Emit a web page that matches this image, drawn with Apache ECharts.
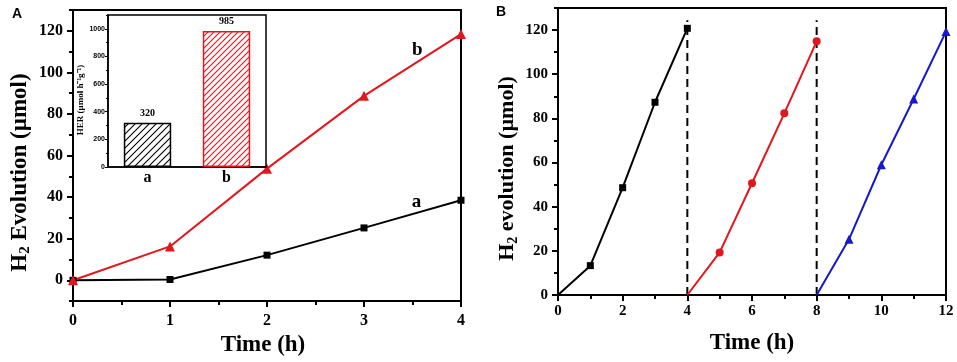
<!DOCTYPE html>
<html>
<head>
<meta charset="utf-8">
<script src="https://cdn.jsdelivr.net/npm/echarts@6/dist/echarts.min.js"></script>
<style>html,body{margin:0;padding:0;background:#fff;}#c{width:957px;height:362px;}</style>
</head>
<body>
<div id="c"></div>
<script>
// ---------- Data ----------
// Panel A
const timeA = [0, 1, 2, 3, 4];
const seriesA_a = [0, 0.4, 12.1, 25.2, 38.5];
const seriesA_b = [0, 16.3, 53.7, 88.7, 118.4];
const yMajorA = [0, 20, 40, 60, 80, 100, 120];
const yMinorA = [-10, 10, 30, 50, 70, 90, 110, 130];
// Inset
const insetCats = ['a', 'b'];
const insetHER = [320, 985];
const insetMajor = [0, 200, 400, 600, 800, 1000];
const insetMinor = [100, 300, 500, 700, 900, 1100];
// Panel B
const cycle1 = [[0, 0], [1, 13.3], [2, 48.6], [3, 87.3], [4, 120.8]];
const cycle2 = [[4, 0], [5, 19.3], [6, 50.6], [7, 82.3], [8, 114.9]];
const cycle3 = [[8, 0], [9, 25.2], [10, 59.0], [11, 88.8], [12, 119.3]];
const dividers = [4, 8];
const dividerTop = 124.5;
const yMajorB = [0, 20, 40, 60, 80, 100, 120];
const yMinorB = [10, 30, 50, 70, 90, 110, 130];

// ---------- Styles ----------
const SERIF = 'Liberation Serif, Times New Roman, serif';
const SANS = 'Liberation Sans, Arial, sans-serif';
const RED = '#e3161d';
const BLUE = '#1717cc';

function hatch(color, p) {
  const c = document.createElement('canvas');
  c.width = p; c.height = p;
  const g = c.getContext('2d');
  g.fillStyle = '#fff'; g.fillRect(0, 0, p, p);
  g.strokeStyle = color; g.lineWidth = 1.1;
  g.beginPath();
  g.moveTo(0, p); g.lineTo(p, 0);
  g.moveTo(-1, 1); g.lineTo(1, -1);
  g.moveTo(p - 1, p + 1); g.lineTo(p + 1, p - 1);
  g.stroke();
  return { image: c, repeat: 'repeat' };
}

const axisLine = { show: true, onZero: false, lineStyle: { color: '#000', width: 2 } };
const tickLbl = (size, extra) => Object.assign({ color: '#000', fontFamily: SERIF, fontWeight: 'bold', fontSize: size }, extra || {});
const plain = v => String(v);

const chart = echarts.init(document.getElementById('c'), null, { renderer: 'canvas' });

const option = {
  animation: false,
  backgroundColor: '#fff',
  graphic: [
    { type: 'text', left: 12, top: 7, style: { text: 'A', font: 'bold 14px ' + SANS, fill: '#000' } },
    { type: 'text', left: 496, top: 5, style: { text: 'B', font: 'bold 14px ' + SANS, fill: '#000' } }
  ],
  grid: [
    { left: 73, top: 10, width: 388, height: 297, show: true, borderColor: '#000', borderWidth: 2 },
    { left: 108, top: 15, width: 158, height: 152, show: true, borderColor: '#000', borderWidth: 1.5, z: 5 },
    { left: 558, top: 8, width: 388, height: 287, show: true, borderColor: '#000', borderWidth: 2 }
  ],
  xAxis: [
    {
      gridIndex: 0, type: 'value', min: 0, max: 4, interval: 1,
      axisLine: axisLine,
      axisTick: { show: true, length: 6, lineStyle: { width: 2, color: '#000' } },
      minorTick: { show: true, splitNumber: 2, length: 4, lineStyle: { width: 2, color: '#000' } },
      axisLabel: tickLbl(16, { margin: 12 }),
      splitLine: { show: false },
      name: 'Time (h)', nameLocation: 'middle', nameGap: 28,
      nameTextStyle: { color: '#000', fontFamily: SERIF, fontWeight: 'bold', fontSize: 23, padding: [0, 8, 0, 0] }
    },
    {
      gridIndex: 1, type: 'category', data: insetCats,
      axisLine: { show: true, lineStyle: { color: '#000', width: 1.5 } },
      axisTick: { show: false },
      axisLabel: tickLbl(16, { margin: 3 }),
      z: 6
    },
    {
      gridIndex: 2, type: 'value', min: 0, max: 12, interval: 2,
      axisLine: axisLine,
      axisTick: { show: true, length: 6, lineStyle: { width: 2, color: '#000' } },
      minorTick: { show: true, splitNumber: 2, length: 4, lineStyle: { width: 2, color: '#000' } },
      axisLabel: tickLbl(15, { margin: 9 }),
      splitLine: { show: false },
      name: 'Time (h)', nameLocation: 'middle', nameGap: 37,
      nameTextStyle: { color: '#000', fontFamily: SERIF, fontWeight: 'bold', fontSize: 23 }
    }
  ],
  yAxis: [
    {
      gridIndex: 0, type: 'value', min: -10, max: 130, position: 'left',
      axisLine: axisLine,
      axisTick: { show: true, customValues: yMajorA, length: 6, lineStyle: { width: 2, color: '#000' } },
      axisLabel: tickLbl(16, { customValues: yMajorA, margin: 10 }),
      splitLine: { show: false },
      name: '{m|H}{s|2}{m| Evolution (µmol)}', nameLocation: 'middle', nameGap: 40, nameRotate: 90,
      nameTextStyle: {
        color: '#000', fontFamily: SERIF, fontWeight: 'bold', fontSize: 23, padding: [0, 34, 0, 0],
        rich: {
          m: { fontFamily: SERIF, fontWeight: 'bold', fontSize: 23, lineHeight: 26, color: '#000' },
          s: { fontFamily: SERIF, fontWeight: 'bold', fontSize: 15, lineHeight: 12, verticalAlign: 'bottom', color: '#000' }
        }
      }
    },
    {
      gridIndex: 0, type: 'value', min: -10, max: 130, position: 'left',
      axisLine: { show: false },
      axisTick: { show: true, customValues: yMinorA, length: 4, lineStyle: { width: 2, color: '#000' } },
      axisLabel: { show: false },
      splitLine: { show: false }
    },
    {
      gridIndex: 1, type: 'value', min: 0, max: 1100, position: 'left',
      axisLine: { show: true, lineStyle: { color: '#000', width: 1.5 } },
      axisTick: { show: true, customValues: insetMajor, length: 3, lineStyle: { width: 1, color: '#000' } },
      axisLabel: { customValues: insetMajor, formatter: plain, color: '#000', fontFamily: SANS, fontWeight: 'bold', fontSize: 7, margin: 3 },
      splitLine: { show: false },
      name: 'HER (µmol h⁻¹g⁻¹)', nameLocation: 'middle', nameGap: 21, nameRotate: 90,
      nameTextStyle: { color: '#000', fontFamily: SERIF, fontWeight: 'bold', fontSize: 9, padding: [0, 18, 0, 0] },
      z: 6
    },
    {
      gridIndex: 1, type: 'value', min: 0, max: 1100, position: 'left',
      axisLine: { show: false },
      axisTick: { show: true, customValues: insetMinor, length: 2, lineStyle: { width: 1, color: '#000' } },
      axisLabel: { show: false },
      splitLine: { show: false },
      z: 6
    },
    {
      gridIndex: 2, type: 'value', min: 0, max: 130, position: 'left',
      axisLine: axisLine,
      axisTick: { show: true, customValues: yMajorB, length: 6, lineStyle: { width: 2, color: '#000' } },
      axisLabel: tickLbl(15, { customValues: yMajorB, margin: 10 }),
      splitLine: { show: false },
      name: '{m|H}{s|2}{m| evolution (µmol)}', nameLocation: 'middle', nameGap: 38, nameRotate: 90,
      nameTextStyle: {
        color: '#000', fontFamily: SERIF, fontWeight: 'bold', fontSize: 22, padding: [0, 34, 0, 0],
        rich: {
          m: { fontFamily: SERIF, fontWeight: 'bold', fontSize: 22, lineHeight: 25, color: '#000' },
          s: { fontFamily: SERIF, fontWeight: 'bold', fontSize: 14, lineHeight: 12, verticalAlign: 'bottom', color: '#000' }
        }
      }
    },
    {
      gridIndex: 2, type: 'value', min: 0, max: 130, position: 'left',
      axisLine: { show: false },
      axisTick: { show: true, customValues: yMinorB, length: 4, lineStyle: { width: 2, color: '#000' } },
      axisLabel: { show: false },
      splitLine: { show: false }
    }
  ],
  series: [
    {
      name: 'a', type: 'line', xAxisIndex: 0, yAxisIndex: 0,
      data: timeA.map((t, i) => [t, seriesA_a[i]]),
      symbol: 'rect', symbolSize: 7, showAllSymbol: true,
      lineStyle: { color: '#000', width: 2 }, itemStyle: { color: '#000' },
      markPoint: {
        symbol: 'circle', symbolSize: 0,
        label: { show: true, position: 'inside', formatter: 'a', color: '#000', fontFamily: SERIF, fontWeight: 'bold', fontSize: 19 },
        data: [{ coord: [3.54, 37.5] }]
      },
      z: 3
    },
    {
      name: 'b', type: 'line', xAxisIndex: 0, yAxisIndex: 0,
      data: timeA.map((t, i) => [t, seriesA_b[i]]),
      symbol: 'triangle', symbolSize: 10,
      lineStyle: { color: RED, width: 2 }, itemStyle: { color: RED },
      markPoint: {
        symbol: 'circle', symbolSize: 0,
        label: { show: true, position: 'inside', formatter: 'b', color: '#000', fontFamily: SERIF, fontWeight: 'bold', fontSize: 19 },
        data: [{ coord: [3.55, 110.5] }]
      },
      z: 3
    },
    {
      name: 'HER', type: 'bar', xAxisIndex: 1, yAxisIndex: 2,
      barWidth: '60%',
      data: insetHER.map((v, i) => ({
        value: v,
        itemStyle: i === 0
          ? { color: hatch('#000', 7), borderColor: '#000', borderWidth: 1.5 }
          : { color: hatch(RED, 6), borderColor: RED, borderWidth: 1.5 }
      })),
      label: { show: true, position: 'top', distance: 4, color: '#000', fontFamily: SERIF, fontWeight: 'bold', fontSize: 10 },
      z: 6
    },
    {
      name: 'cycle1', type: 'line', xAxisIndex: 2, yAxisIndex: 4,
      data: cycle1.map((p, i) => ({ value: p, symbol: i === 0 ? 'none' : 'rect' })),
      symbolSize: 7,
      lineStyle: { color: '#000', width: 2 }, itemStyle: { color: '#000' }
    },
    {
      name: 'cycle2', type: 'line', xAxisIndex: 2, yAxisIndex: 4,
      data: cycle2.map((p, i) => ({ value: p, symbol: i === 0 ? 'none' : 'circle' })),
      symbolSize: 8,
      lineStyle: { color: RED, width: 2 }, itemStyle: { color: RED }
    },
    {
      name: 'cycle3', type: 'line', xAxisIndex: 2, yAxisIndex: 4,
      data: cycle3.map((p, i) => ({ value: p, symbol: i === 0 ? 'none' : 'triangle' })),
      symbolSize: 9,
      lineStyle: { color: BLUE, width: 2 }, itemStyle: { color: BLUE }
    }
  ].concat(dividers.map(d => ({
    name: 'divider' + d, type: 'line', xAxisIndex: 2, yAxisIndex: 4,
    data: [[d, 0], [d, dividerTop]], symbol: 'none',
    lineStyle: { color: '#000', width: 2, type: [8, 5] }, z: 1
  })))
};

chart.setOption(option);
</script>
</body>
</html>
